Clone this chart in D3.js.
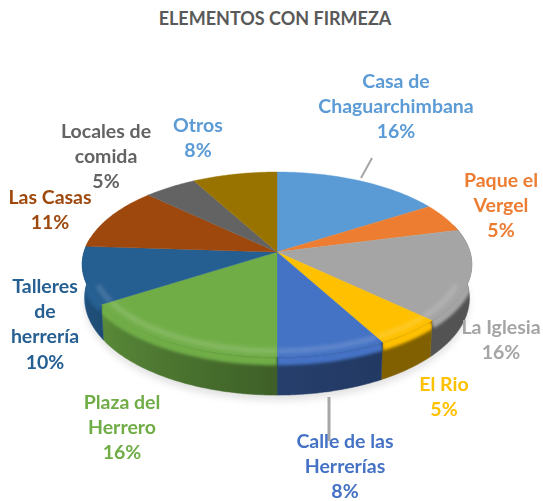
<!DOCTYPE html>
<html><head><meta charset="utf-8">
<style>html,body{margin:0;background:#fff;overflow:hidden}svg{display:block}text{font-family:Lato,"Open Sans",sans-serif;font-weight:700}</style>
<script src="https://cdn.jsdelivr.net/npm/d3@7/dist/d3.min.js"></script>
</head><body><svg id="c" width="543" height="501"></svg>
<script>
const title = "ELEMENTOS CON FIRMEZA";
const categories = ["Casa de Chaguarchimbana","Paque el Vergel","La Iglesia","El Rio","Calle de las Herrerías","Plaza del Herrero","Talleres de herrería","Las Casas","Locales de comida","Otros"];
const values = [16,5,16,5,8,16,10,11,5,8];
const colors = ["#5B9BD5","#ED7D31","#A5A5A5","#FFC000","#4472C4","#70AD47","#255E91","#9E480E","#636363","#997300"];
const labelColors = ["#5B9BD5","#ED7D31","#A5A5A5","#FFC000","#4472C4","#70AD47","#255E91","#9E480E","#636363","#5B9BD5"];
const labelLines = [["Casa de","Chaguarchimbana"],["Paque el","Vergel"],["La Iglesia"],["El Rio"],["Calle de las","Herrerías"],["Plaza del","Herrero"],["Talleres","de","herrería"],["Las Casas"],["Locales de","comida"],["Otros"]];
const labelAnchors = [[396,88],[501,187],[501,334],[444,391],[345,448],[122,409],[45,293],[50,204],[106,138],[198,132]];
const lineH = 25.2;

const svg = d3.select("#c");
const defs = svg.append("defs");
const cx=277, cy=252, rx=193, persp=.135, h=90.8, depth=33;
const sx=d3.scaleLinear().domain([-1,1]).range([cx-rx,cx+rx]);
const sy=d3.scaleLinear().domain([-1,1]).range([cy-h,cy+h]);
const proj=(a,r=1,z=0)=>{const X=r*Math.sin(a),Y=-r*Math.cos(a),s=1/(1-persp*Y);
  return [cx+(sx(X)-cx)*s*(1-z*.012), (sy(Y)-cy)*s+cy+z*depth*s];};
const arcs=d3.pie().value(d=>d).sort(null)(values);
const line=d3.line();
const samples=(a0,a1,r=1,z=0,n=60)=>d3.range(0,n+1).map(i=>proj(a0+(a1-a0)*i/n,r,z));

const f1=defs.append("filter").attr("id","blur").attr("x","-20%").attr("y","-20%").attr("width","140%").attr("height","140%");
f1.append("feGaussianBlur").attr("stdDeviation",3.5);
const blurF=(id,sd)=>defs.append("filter").attr("id",id).attr("filterUnits","userSpaceOnUse").attr("x",0).attr("y",0).attr("width",543).attr("height",501).append("feGaussianBlur").attr("stdDeviation",sd);
blurF("soft",2);blurF("edge",1.6);
const f3=defs.append("filter").attr("id","tiny");f3.append("feGaussianBlur").attr("stdDeviation",.35);

// ground shadow
svg.append("path").attr("fill","#999").attr("opacity",.28).attr("filter","url(#blur)")
  .attr("d",line(samples(Math.PI*.42,Math.PI*1.5,1,1.14))+"Z");

// how far each wall darkens, by angle round the pie (degrees clockwise from top)
const wallShade=d3.scaleLinear().domain([90,150,180,237,275]).range([.5,.5,.55,.8,.95]).clamp(true);
const wg=svg.append("g");
arcs.forEach((a,i)=>{
  const a0=Math.max(a.startAngle,Math.PI*.4),a1=Math.min(a.endAngle,Math.PI*1.55);
  if(a1<=a0)return;
  const base=d3.rgb(colors[i]);
  const top=samples(a0,a1),bot=samples(a1,a0,1,1);
  const d=line(top.concat(bot))+"Z";
  const xa=proj(a0)[0],xb=proj(a1)[0];
  const g=defs.append("linearGradient").attr("id","w"+i).attr("gradientUnits","userSpaceOnUse")
    .attr("x1",xa).attr("x2",xb===xa?xa+1:xb).attr("y1",0).attr("y2",0);
  d3.range(0,11).forEach(k=>{
    const an=a0+(a1-a0)*k/10,f=wallShade(an*180/Math.PI);
    g.append("stop").attr("offset",(proj(an)[0]-xa)/((xb-xa)||1))
      .attr("stop-color",d3.rgb(base.r*f,base.g*f,base.b*f).formatHex());
  });
  const cid="wc"+i;
  defs.append("clipPath").attr("id",cid).append("path").attr("d",d);
  wg.append("path").attr("d",d).attr("fill",`url(#w${i})`).attr("stroke",`url(#w${i})`).attr("stroke-width",.5);
  // the wall's upper edge melts into the slice colour
  wg.append("g").attr("clip-path",`url(#${cid})`).append("path")
    .attr("d",line(samples(a0,a1,1,.1))).attr("fill","none").attr("stroke",colors[i])
    .attr("stroke-width",9).attr("filter","url(#edge)");
});

// top faces + bevel highlight
const tg=svg.append("g");
arcs.forEach((a,i)=>{
  const pts=[proj(0,0)].concat(samples(a.startAngle,a.endAngle));
  const d=line(pts)+"Z";
  tg.append("path").attr("d",d).attr("fill",colors[i]).attr("stroke",colors[i]).attr("stroke-width",.4);
  const id="clip"+i;
  defs.append("clipPath").attr("id",id).append("path").attr("d",d);
  const a0=Math.max(a.startAngle,Math.PI*.62),a1=Math.min(a.endAngle,Math.PI*1.38);
  if(a1>a0){
    tg.append("g").attr("clip-path",`url(#${id})`).append("path")
      .attr("d",line(samples(a0,a1,.95))).attr("fill","none").attr("stroke","#fff").attr("stroke-opacity",.2)
      .attr("stroke-width",4).attr("filter","url(#soft)");
  }
});

// leader lines
const lead=svg.append("g").attr("stroke","#A6A6A6");
lead.append("line").attr("x1",372).attr("y1",158).attr("x2",361).attr("y2",178).attr("stroke-width",2);
lead.append("line").attr("x1",329).attr("y1",397).attr("x2",329).attr("y2",441).attr("stroke-width",3);

// labels
svg.append("text").attr("x",275).attr("y",25).attr("text-anchor","middle").attr("font-size",18).attr("fill","#595959").text(title);
const lg=svg.append("g").attr("filter","url(#tiny)");
categories.forEach((name,i)=>{
  const [x,y]=labelAnchors[i];
  const t=lg.append("text").attr("text-anchor","middle").attr("font-size",19.5).attr("fill",labelColors[i]);
  labelLines[i].concat([values[i]+"%"]).forEach((s,j)=>t.append("tspan").attr("x",x).attr("y",y+j*lineH).text(s));
});
</script></body></html>
